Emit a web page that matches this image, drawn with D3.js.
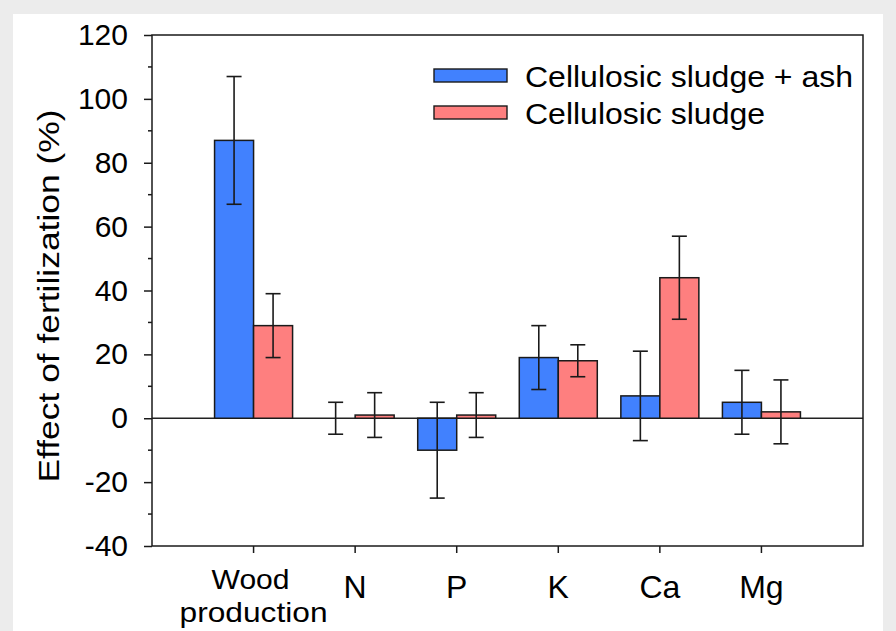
<!DOCTYPE html>
<html>
<head>
<meta charset="utf-8">
<script src="https://cdn.jsdelivr.net/npm/d3@7"></script>
<style>
  body { margin: 0; background: #ececec; }
  text { font-family: "Liberation Sans", Arial, sans-serif; fill: #000; }
</style>
</head>
<body>
<script>
// data
const categories = ['Wood production', 'N', 'P', 'K', 'Ca', 'Mg'];
const seriesNames = ['Cellulosic sludge + ash', 'Cellulosic sludge'];
const ashValues = [87, 0, -10, 19, 7, 5];
const ashErrors = [20, 5, 15, 10, 14, 10];
const sludgeValues = [29, 1, 1, 18, 44, 2];
const sludgeErrors = [10, 7, 7, 5, 13, 10];
const yTicks = [-40, -20, 0, 20, 40, 60, 80, 100, 120];
const yMinorTicks = [-30, -10, 10, 30, 50, 70, 90, 110];

const colors = ['#4181fe', '#fe7f7f'];

const width = 896, height = 631;
const svg = d3.select('body').append('svg')
  .attr('width', width)
  .attr('height', height);

// white panel
svg.append('rect')
  .attr('x', 13).attr('y', 14)
  .attr('width', 870).attr('height', height - 14)
  .attr('fill', '#fff');

const pLeft = 152, pRight = 863, pTop = 35, pBottom = 546;

const x0 = d3.scaleBand()
  .domain(categories)
  .range([pLeft, pRight])
  .paddingInner(0)
  .paddingOuter(0.5);

const x1 = d3.scaleBand()
  .domain(seriesNames)
  .range([0, x0.bandwidth()])
  .paddingInner(0)
  .paddingOuter(0.302);

const y = d3.scaleLinear()
  .domain([-40, 120])
  .range([pBottom, pTop]);

const rows = categories.map((c, i) => ({
  cat: c,
  bars: [
    {s: seriesNames[0], v: ashValues[i], e: ashErrors[i], c: colors[0]},
    {s: seriesNames[1], v: sludgeValues[i], e: sludgeErrors[i], c: colors[1]}
  ]
}));

// zero line
svg.append('line')
  .attr('x1', pLeft).attr('x2', pRight)
  .attr('y1', y(0)).attr('y2', y(0))
  .attr('stroke', '#222').attr('stroke-width', 1.4);

const groups = svg.selectAll('g.cat')
  .data(rows)
  .join('g')
  .attr('class', 'cat')
  .attr('transform', d => `translate(${x0(d.cat)},0)`);

groups.selectAll('rect')
  .data(d => d.bars)
  .join('rect')
  .attr('x', d => x1(d.s))
  .attr('width', x1.bandwidth())
  .attr('y', d => y(Math.max(0, d.v)))
  .attr('height', d => Math.abs(y(d.v) - y(0)))
  .attr('fill', d => d.c)
  .attr('stroke', '#1a1a1a')
  .attr('stroke-width', 1.5);

// error bars
const capW = 15;
const err = groups.selectAll('g.err')
  .data(d => d.bars)
  .join('g')
  .attr('class', 'err')
  .attr('stroke', '#1a1a1a')
  .attr('stroke-width', 1.6);
err.append('line')
  .attr('x1', d => x1(d.s) + x1.bandwidth() / 2)
  .attr('x2', d => x1(d.s) + x1.bandwidth() / 2)
  .attr('y1', d => y(d.v + d.e))
  .attr('y2', d => y(d.v - d.e));
[1, -1].forEach(sign => {
  err.append('line')
    .attr('x1', d => x1(d.s) + x1.bandwidth() / 2 - capW / 2)
    .attr('x2', d => x1(d.s) + x1.bandwidth() / 2 + capW / 2)
    .attr('y1', d => y(d.v + sign * d.e))
    .attr('y2', d => y(d.v + sign * d.e));
});

// frame
svg.append('rect')
  .attr('x', pLeft).attr('y', pTop)
  .attr('width', pRight - pLeft).attr('height', pBottom - pTop)
  .attr('fill', 'none')
  .attr('stroke', '#1a1a1a').attr('stroke-width', 1.5);

// y axis
const yAxis = svg.append('g')
  .attr('transform', `translate(${pLeft},0)`)
  .call(d3.axisLeft(y).tickValues(yTicks).tickSize(8).tickPadding(16)
    .tickSizeOuter(0).tickFormat(d => String(d)));
yAxis.select('.domain').remove();
yAxis.selectAll('line').attr('stroke', '#1a1a1a').attr('stroke-width', 1.5);
yAxis.selectAll('text').attr('font-size', 30).style('font-family', '"Liberation Sans", Arial, sans-serif').attr('fill', '#000');

svg.append('g')
  .selectAll('line')
  .data(yMinorTicks)
  .join('line')
  .attr('x1', pLeft - 4).attr('x2', pLeft)
  .attr('y1', d => y(d)).attr('y2', d => y(d))
  .attr('stroke', '#1a1a1a').attr('stroke-width', 1.5);

// x axis ticks
const xAxis = svg.append('g')
  .attr('transform', `translate(0,${pBottom})`)
  .call(d3.axisBottom(x0).tickSize(7).tickSizeOuter(0).tickFormat(''));
xAxis.select('.domain').remove();
xAxis.selectAll('line').attr('stroke', '#1a1a1a').attr('stroke-width', 1.5);

// category labels
const xl = svg.append('g').attr('font-size', 32).attr('text-anchor', 'middle');
categories.forEach(c => {
  const cx = x0(c) + x0.bandwidth() / 2;
  if (c === 'Wood production') {
    xl.append('text').attr('x', cx - 3).attr('y', 589).attr('font-size', 28)
      .attr('textLength', 78).attr('lengthAdjust', 'spacingAndGlyphs').text('Wood');
    xl.append('text').attr('x', cx).attr('y', 622).attr('font-size', 28)
      .attr('textLength', 148).attr('lengthAdjust', 'spacingAndGlyphs').text('production');
  } else {
    xl.append('text').attr('x', cx).attr('y', 598).text(c);
  }
});

// y title
svg.append('text')
  .attr('transform', 'translate(59,296) rotate(-90)')
  .attr('text-anchor', 'middle')
  .attr('font-size', 29)
  .attr('textLength', 373)
  .attr('lengthAdjust', 'spacingAndGlyphs')
  .text('Effect of fertilization (%)');

// legend
const legend = svg.append('g');
const legendW = [328, 240];
seriesNames.forEach((s, i) => {
  const ly = 87 + i * 37;
  legend.append('rect')
    .attr('x', 434).attr('y', ly - 18)
    .attr('width', 73).attr('height', 13)
    .attr('fill', colors[i])
    .attr('stroke', '#1a1a1a').attr('stroke-width', 1.4);
  legend.append('text')
    .attr('x', 525).attr('y', ly)
    .attr('font-size', 30)
    .attr('textLength', legendW[i])
    .attr('lengthAdjust', 'spacingAndGlyphs')
    .text(s);
});
</script>
</body>
</html>
